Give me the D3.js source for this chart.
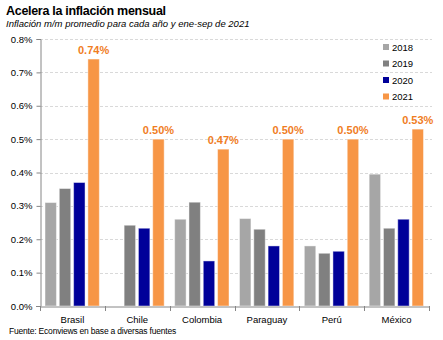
<!DOCTYPE html>
<html><head><meta charset="utf-8">
<script src="https://cdn.jsdelivr.net/npm/d3@7"></script>
<style>
html,body{margin:0;padding:0;background:#fff;}
svg{display:block;font-family:"Liberation Sans",Arial,sans-serif;}
</style></head>
<body>
<svg id="c" width="443" height="340"></svg>
<script>
const categories = ["Brasil","Chile","Colombia","Paraguay","Perú","México"];
const years = ["2018","2019","2020","2021"];
const v2018 = [0.31, null, 0.26, 0.262, 0.18, 0.395];
const v2019 = [0.352, 0.242, 0.311, 0.23, 0.158, 0.233];
const v2020 = [0.37, 0.233, 0.135, 0.18, 0.164, 0.26];
const v2021 = [0.74, 0.50, 0.47, 0.50, 0.50, 0.53];
const yTicks = [0,0.1,0.2,0.3,0.4,0.5,0.6,0.7,0.8];
const colors = ["#a6a6a6","#808080","#000099","#f79646"];
const series = [v2018, v2019, v2020, v2021];

const svg = d3.select("#c");
const L = 40, R = 429, T = 39, B = 306;

const x0 = d3.scaleBand().domain(categories).range([L, R]).padding(0);
const x1 = d3.scaleBand().domain(years).range([5, x0.bandwidth()-5.5]).paddingInner(0.2).paddingOuter(0);
const y = d3.scaleLinear().domain([0, 0.8]).range([B, T]);

// title
svg.append("text").attr("x",6).attr("y",15).attr("font-size",12.5).attr("font-weight","bold")
  .attr("letter-spacing",-0.3).attr("fill","#000").text("Acelera la inflación mensual");
svg.append("text").attr("x",6).attr("y",27).attr("font-size",9.5).attr("font-style","italic")
  .attr("letter-spacing",0).attr("fill","#000").text("Inflación m/m promedio para cada año y ene-sep de 2021");

// gridlines
svg.append("g").selectAll("line").data(yTicks.filter(d=>d>0)).join("line")
  .attr("x1",L).attr("x2",432).attr("y1",d=>Math.round(y(d))+0.5).attr("y2",d=>Math.round(y(d))+0.5)
  .attr("stroke","#d9d9d9").attr("stroke-dasharray","3,2").attr("stroke-width",1);

// y axis
const yAxis = d3.axisLeft(y).tickValues(yTicks).tickFormat(d=>d3.format(".1f")(d)+"%").tickSize(4).tickPadding(4);
const gy = svg.append("g").attr("transform",`translate(${L+0.5},0)`).call(yAxis);
gy.select(".domain").attr("stroke","#868686");
gy.selectAll(".tick line").attr("stroke","#868686");
gy.selectAll(".tick text").attr("font-size",9.5).attr("fill","#000").attr("font-family","Liberation Sans, Arial, sans-serif");

// bars
categories.forEach((c,i)=>{
  series.forEach((s,j)=>{
    if (s[i]==null) return;
    svg.append("rect")
      .attr("x", x0(c)+x1(years[j]))
      .attr("y", y(s[i]))
      .attr("width", x1.bandwidth())
      .attr("height", B - y(s[i]))
      .attr("fill", colors[j])
      .attr("stroke","rgba(255,255,255,0.45)").attr("stroke-width",1);
  });
  svg.append("text")
    .attr("x", x0(c)+x1("2021")+x1.bandwidth()/2)
    .attr("y", y(v2021[i]) - 5)
    .attr("text-anchor","middle").attr("font-size",11).attr("font-weight","bold")
    .attr("fill","#f07d1f").text(d3.format(".2f")(v2021[i])+"%");
});

// x axis
const xAxis = d3.axisBottom(x0).tickSize(0).tickPadding(10);
const gx = svg.append("g").attr("transform",`translate(0,${B+0.5})`).call(xAxis);
gx.select(".domain").attr("stroke","#868686");
gx.selectAll(".tick text").attr("font-size",9.5).attr("fill","#000").attr("font-family","Liberation Sans, Arial, sans-serif");
// boundary ticks
svg.append("g").selectAll("line").data(categories.map(c=>x0(c)).concat([R])).join("line")
  .attr("x1",d=>Math.round(d)+0.5).attr("x2",d=>Math.round(d)+0.5).attr("y1",B).attr("y2",B+5)
  .attr("stroke","#868686");
svg.append("line").attr("x1",36).attr("x2",L).attr("y1",B+0.5).attr("y2",B+0.5).attr("stroke","#868686");

// legend
const lg = svg.append("g");
years.forEach((yr,j)=>{
  const yy = 47 + j*16.5;
  lg.append("rect").attr("x",383).attr("y",yy-3).attr("width",6).attr("height",6).attr("fill",colors[j]);
  lg.append("text").attr("x",392).attr("y",yy+3.5).attr("font-size",9.5).attr("fill","#000").text(yr);
});

// source
svg.append("text").attr("x",9).attr("y",334).attr("font-size",8.5).attr("letter-spacing",-0.2)
  .attr("fill","#000").text("Fuente: Econviews en base a diversas fuentes");
</script>
</body></html>
